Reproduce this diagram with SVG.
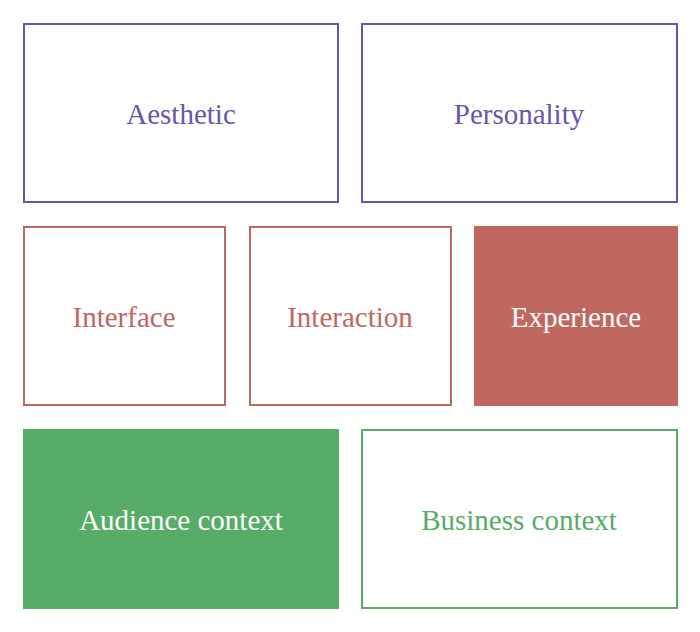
<svg xmlns="http://www.w3.org/2000/svg" width="700" height="632" viewBox="0 0 700 632">
<style>
rect{stroke-width:2}
text{font-family:"Liberation Serif","DejaVu Serif",serif;font-size:29px;text-anchor:middle;dominant-baseline:central}
.p rect{fill:#fff;stroke:#6a55ad}.p text{fill:#6a55ad}
.r rect{fill:#fff;stroke:#c0675f}.r text{fill:#c0675f}
.g rect{fill:#fff;stroke:#57ac67}.g text{fill:#57ac67}
.rf rect{fill:#c0675f;stroke:#c0675f}.gf rect{fill:#57ac67;stroke:#57ac67}
.rf text,.gf text{fill:#fff}
</style>
<rect width="700" height="632" fill="#fff"/>
<g id="aesthetic" class="p"><rect x="24" y="24" width="314" height="178"/><text x="181" y="114">Aesthetic</text></g>
<g id="personality" class="p"><rect x="362" y="24" width="315" height="178"/><text x="519" y="114">Personality</text></g>
<g id="interface" class="r"><rect x="24" y="227" width="201" height="178"/><text x="124" y="317">Interface</text></g>
<g id="interaction" class="r"><rect x="250" y="227" width="201" height="178"/><text x="350" y="317">Interaction</text></g>
<g id="experience" class="rf"><rect x="475" y="227" width="202" height="178"/><text x="576" y="317">Experience</text></g>
<g id="audience" class="gf"><rect x="24" y="430" width="314" height="178"/><text x="181" y="520">Audience context</text></g>
<g id="business" class="g"><rect x="362" y="430" width="315" height="178"/><text x="519" y="520">Business context</text></g>
<g id="connectors"/>
</svg>
